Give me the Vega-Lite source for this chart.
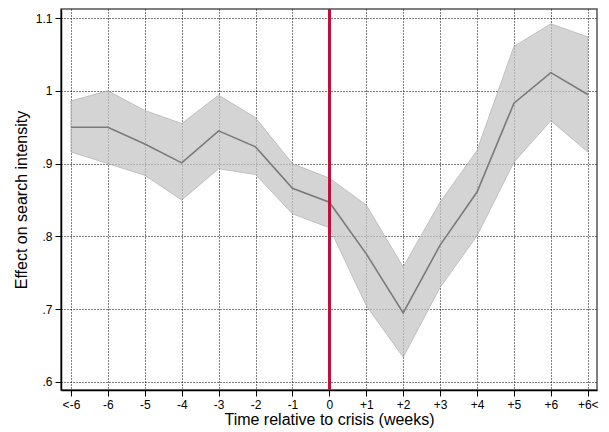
{
  "$schema": "https://vega.github.io/schema/vega-lite/v6.json",
  "width": 536,
  "height": 381,
  "autosize": {"type": "none"},
  "padding": {"left": 61, "top": 9, "right": 12, "bottom": 42},
  "background": "white",
  "config": {
    "font": "Liberation Sans",
    "view": {"stroke": "#555555", "strokeWidth": 1.5},
    "axis": {
      "domainColor": "black",
      "domainWidth": 1.5,
      "tickColor": "black",
      "tickWidth": 1,
      "tickSize": 6,
      "labelColor": "black",
      "labelFontSize": 12,
      "labelFont": "Liberation Sans",
      "titleFont": "Liberation Sans",
      "titleFontSize": 16,
      "titleFontWeight": "normal",
      "titleColor": "black",
      "gridColor": "black",
      "gridDash": [1, 2],
      "gridWidth": 1,
      "gridOpacity": 1
    }
  },
  "data": {
    "values": [
      {"t": 0, "est": 0.950, "lo": 0.916, "hi": 0.986},
      {"t": 1, "est": 0.950, "lo": 0.900, "hi": 1.000},
      {"t": 2, "est": 0.927, "lo": 0.884, "hi": 0.973},
      {"t": 3, "est": 0.901, "lo": 0.850, "hi": 0.955},
      {"t": 4, "est": 0.945, "lo": 0.893, "hi": 0.994},
      {"t": 5, "est": 0.923, "lo": 0.885, "hi": 0.963},
      {"t": 6, "est": 0.866, "lo": 0.831, "hi": 0.900},
      {"t": 7, "est": 0.847, "lo": 0.812, "hi": 0.880},
      {"t": 8, "est": 0.776, "lo": 0.705, "hi": 0.843},
      {"t": 9, "est": 0.695, "lo": 0.634, "hi": 0.758},
      {"t": 10, "est": 0.788, "lo": 0.730, "hi": 0.847},
      {"t": 11, "est": 0.861, "lo": 0.801, "hi": 0.918},
      {"t": 12, "est": 0.983, "lo": 0.902, "hi": 1.061},
      {"t": 13, "est": 1.025, "lo": 0.959, "hi": 1.092},
      {"t": 14, "est": 0.995, "lo": 0.916, "hi": 1.074}
    ]
  },
  "encoding": {
    "x": {
      "field": "t",
      "type": "quantitative",
      "scale": {"domain": [-0.27, 14.25], "nice": false, "zero": false},
      "axis": {
        "values": [0,1,2,3,4,5,6,7,8,9,10,11,12,13,14],
        "labelExpr": "['<-6','-6','-5','-4','-3','-2','-1','0','+1','+2','+3','+4','+5','+6','+6<'][datum.value]",
        "title": "Time relative to crisis (weeks)",
        "labelPadding": 3,
        "titlePadding": 1
      }
    }
  },
  "layer": [
    {
      "mark": {"type": "area", "color": "#c4c4c4", "opacity": 0.72, "stroke": "#a8a8a8", "strokeWidth": 1},
      "encoding": {
        "y": {
          "field": "lo",
          "type": "quantitative",
          "scale": {"domain": [0.589, 1.1124], "nice": false, "zero": false},
          "axis": {
            "values": [0.6, 0.7, 0.8, 0.9, 1.0, 1.1],
            "labelExpr": "datum.value == 1 ? '1' : replace(format(datum.value, '.1f'), '0.', '.')",
            "title": "Effect on search intensity",
            "titlePadding": 6,
            "labelPadding": 3
          }
        },
        "y2": {"field": "hi"}
      }
    },
    {
      "mark": {"type": "line", "color": "#7a7a7a", "strokeWidth": 1.6},
      "encoding": {"y": {"field": "est", "type": "quantitative"}}
    },
    {
      "mark": {"type": "rule", "color": "#c0103c", "strokeWidth": 2},
      "encoding": {"x": {"datum": 7}}
    }
  ]
}
